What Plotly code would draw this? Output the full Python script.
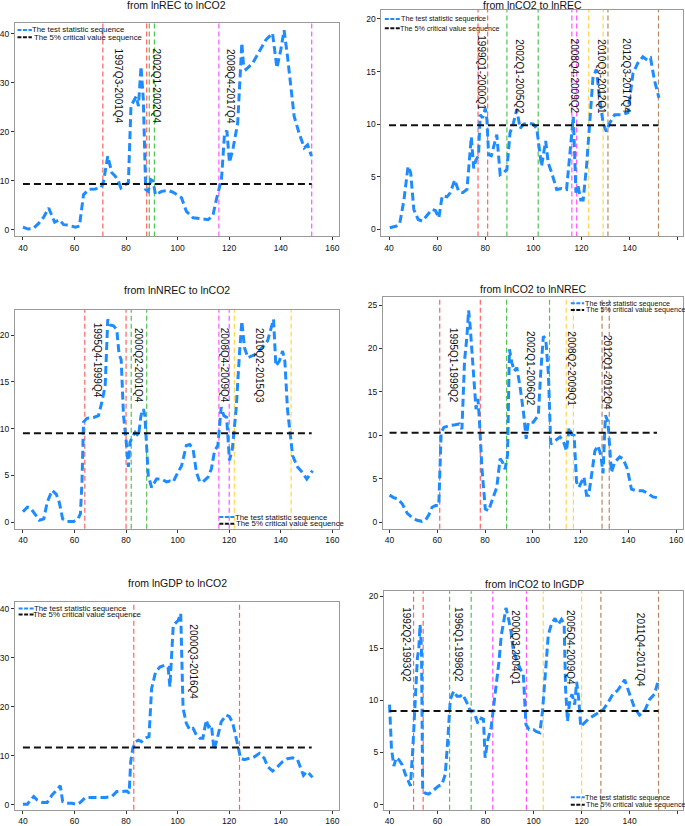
import plotly.graph_objects as go

# ---------------- DATA ----------------
titles = ["from lnREC to lnCO2", "from lnCO2 to lnREC",
          "from lnNREC to lnCO2", "from lnCO2 to lnNREC",
          "from lnGDP to lnCO2", "from lnCO2 to lnGDP"]
legend_names = ["The test statistic sequence", "The 5% critical value sequence"]

# Panel 1: lnREC -> lnCO2
p1_x = [40, 42, 44, 46, 48, 50, 52.3, 54.1, 55.8, 57.7, 60.3, 61.9, 63.5, 65.5, 68, 70.4, 71.3, 72.9, 74.5,
        75.8, 77, 78, 79.6, 80.9, 81.9, 83.2, 83.9, 84.8, 85.8, 86.7, 87.6, 88.6, 89.6, 90.5, 91.4, 93.8,
        96.3, 98.3, 101.5, 103.4, 106, 109.2, 111.8, 113.7, 115, 117, 118.2, 119.1, 120.1, 121.4, 123.3,
        124.9, 125.6, 126.5, 129.1, 131.7, 134.3, 136.8, 138.5, 140, 141.3, 142.6, 143.7, 145.2, 147.1,
        149.1, 150.4, 151.9]
p1_y = [0.5, 0.1, 0.2, 1.2, 2.5, 4.4, 1.5, 2.0, 1.0, 0.9, 0.5, 0.7, 7.1, 8.2, 8.3, 8.6, 9.9, 15.0, 11.6,
        10.9, 9.9, 8.5, 9.2, 9.5, 25.2, 26.5, 27.2, 25.2, 33.3, 26.5, 8.2, 7.8, 10.2, 9.9, 7.1, 7.8,
        8.0, 7.6, 6.5, 3.7, 2.4, 2.2, 2.0, 2.9, 6.1, 10.2, 19.7, 20.2, 13.7, 16.3, 21.8,
        38.1, 33.3, 32.7, 34.0, 36.4, 38.8, 40.1, 33.0, 36.7, 40.7, 35.4, 29.9, 23.1, 19.7,
        16.7, 17.3, 15.0]
p1_cv = 9.3
p1_breaks = [71, 88, 89, 91, 116, 152]
p1_break_kind = ["red", "red", "green", "green", "magenta", "magenta"]
p1_periods = ["1997Q3-2001Q4", "2002Q1-2002Q4", "2008Q4-2017Q4"]

# Panel 2: lnCO2 -> lnREC
p2_x = [40.3, 42.8, 44.4, 46.2, 47.9, 49, 50.3, 52.1, 53.8, 55.9, 57.9, 59.3, 60.7, 62.1, 64.1, 65.5, 67.3,
        69, 70.6, 72.4, 74.2, 75.2, 76.1, 77.2, 77.9, 78.9, 80, 80.7, 81.4, 82.5, 83.4, 84.8, 86.2, 87.6,
        89, 90.3, 91.7, 93.1, 94.5, 95.9, 97.9, 100, 101.4, 102.8, 103.4, 104.1, 105.1, 106.2, 107.6,
        109.7, 111.7, 113.8, 115.2, 116.6, 117.7, 118.6, 119.7, 120.7, 122.1, 123.4, 124.8, 126.2, 127.6,
        129, 130.3, 131.7, 133.8, 136.6, 139.3, 141.4, 143.4, 145.5, 147.3, 148.7, 150.3, 152.2]
p2_y = [0.16, 0.3, 0.5, 2.8, 6.0, 5.4, 1.9, 0.95, 0.8, 1.4, 1.9, 1.8, 1.1, 3.2, 3.1, 3.5, 4.7,
        3.6, 3.5, 3.8, 8.8, 5.8, 6.6, 7.0, 10.9, 10.6, 11.5, 10.4, 7.1, 7.0, 7.7, 9.0, 5.2, 5.4,
        5.7, 9.2, 10.1, 11.4, 9.6, 10.0, 10.1, 10.0, 9.6, 7.0, 6.0, 7.0, 8.4, 6.3, 5.4,
        3.8, 3.9, 3.8, 7.3, 10.7, 3.5, 4.1, 2.8, 2.8, 6.0, 10.1, 14.5, 15.2, 12.3,
        10.1, 9.3, 10.1, 10.9, 10.9, 11.1, 14.8, 15.8, 16.4, 16.1, 16.3, 14.2, 12.5]
p2_cv = 9.9
p2_breaks = [77, 81, 89, 102, 116, 118, 123, 129, 131, 152]
p2_break_kind = ["red", "red", "green", "green", "magenta", "magenta", "yellow", "yellow", "brown", "brown"]
p2_periods = ["1999Q1-2000Q1", "2002Q1-2005Q2", "2008Q4-2009Q2", "2010Q3-2012Q1", "2012Q3-2017Q4"]

# Panel 3: lnNREC -> lnCO2
p3_x = [40, 41.7, 43, 44.9, 46.4, 48.1, 49.4, 51.3, 52.9, 54.1, 55.4, 57.1, 59.7, 61.4, 62.3, 62.9, 63.5,
        64.8, 67.4, 69.3, 70.6, 71.9, 72.9, 73.8, 75.1, 76.4, 77.3, 78.1, 79, 79.9, 80.9, 81.5, 82.4, 83.5,
        84.8, 85.8, 86.7, 87.3, 88.6, 89.9, 91.8, 93.8, 95.7, 97, 98.3, 99.5, 101.5, 103.4, 104.7, 106,
        107.3, 108.6, 109.8, 111.8, 113.1, 114.3, 115.6, 116.9, 117.9, 119, 120.1, 121.2, 122.7, 124,
        124.9, 125.9, 127.2, 129.8, 132.3, 134.9, 137.2, 138.1, 139.4, 140.7, 141.6, 142.6, 143.7, 144.6,
        146.5, 148.4, 150.1, 151.6, 152.3]
p3_y = [1.1, 1.6, 1.5, 0.7, 0.2, 0.35, 2.1, 3.4, 3.0, 2.1, 0.35, 0.07, 0.07, 0.35, 0.9, 4.3, 10.7,
        11.1, 11.2, 11.4, 12.8, 14.6, 21.7, 21.1, 21.0, 20.6, 17.9, 17.4, 11.4, 9.1, 5.9, 8.5, 9.1, 9.6,
        9.2, 11.4, 12.1, 11.4, 5.0, 3.7, 4.6, 4.6, 4.3, 4.4, 4.3, 5.0, 6.0, 8.2, 8.3, 7.8,
        5.3, 4.3, 4.3, 4.8, 5.7, 7.6, 8.2, 12.3, 11.4, 11.2, 6.6, 7.8, 12.1, 18.1,
        21.5, 18.7, 17.6, 17.9, 18.5, 19.4, 21.7, 16.7, 17.2, 18.3, 17.2, 12.1, 9.2, 7.1,
        5.9, 5.3, 4.6, 5.3, 5.5]
p3_cv = 9.5
p3_breaks = [64, 80, 82, 88, 116, 120, 122, 144]
p3_break_kind = ["red", "red", "green", "green", "magenta", "magenta", "yellow", "yellow"]
p3_periods = ["1995Q4-1999Q4", "2000Q2-2001Q4", "2008Q4-2009Q4", "2010Q2-2015Q3"]

# Panel 4: lnCO2 -> lnNREC
p4_x = [40, 41.8, 43.2, 45.3, 47.4, 49.5, 51.5, 53.6, 55, 56.4, 57.8, 59.2, 60.6, 61.6, 62.7, 64.8, 67.5,
        69.2, 70.3, 71.4, 72.4, 73.1, 73.8, 74.9, 76.2, 77, 77.6, 78.7, 80.1, 81.4, 82.8, 84.9, 86.3, 87.3,
        88.4, 89.4, 90.2, 91.2, 92.2, 93.3, 94.7, 96.1, 97.2, 98.1, 100.2, 102.3, 103.3, 104.4, 105.4,
        106.5, 107.5, 109.3, 111.4, 112.7, 114.1, 115.2, 116.2, 117.3, 118.3, 119.3, 120.4, 121.4, 122.5,
        123.4, 124.6, 126, 127.3, 128.5, 129.4, 130.4, 131.5, 132.9, 134.3, 136.4, 137.8, 139.6, 141.3,
        143.4, 146.1, 148.2, 150.3, 152.2]
p4_y = [3.1, 2.8, 2.7, 2.1, 1.0, 0.5, 0.2, 0.08, 0.2, 0.8, 1.7, 1.9, 1.9, 10.3, 10.9, 11.1, 11.2,
        11.3, 10.7, 18.6, 21.4, 24.4, 22.4, 17.6, 13.0, 14.2, 11.9, 6.1, 1.5, 1.3, 2.3, 4.0, 7.3, 6.9,
        6.1, 7.7, 19.9, 18.4, 17.4, 17.8, 15.5, 12.6, 9.6, 11.5, 11.5, 12.3, 17.2, 21.4, 21.1,
        17.2, 9.0, 9.4, 9.8, 9.4, 8.2, 10.9, 10.1, 10.0, 4.6, 4.0, 4.6, 5.2, 3.1,
        3.1, 5.4, 8.2, 8.8, 7.7, 5.6, 12.3, 11.5, 5.7, 6.9, 7.5, 7.3, 6.1, 3.8,
        3.6, 3.6, 3.3, 2.9, 2.8]
p4_cv = 10.3
p4_breaks = [61, 78, 89, 107, 114, 117, 129, 132]
p4_break_kind = ["red", "red", "green", "green", "yellow", "yellow", "brown", "brown"]
p4_periods = ["1995Q1-1999Q2", "2002Q1-2006Q2", "2008Q2-2009Q1", "2012Q1-2012Q4"]

# Panel 5: lnGDP -> lnCO2
p5_x = [40, 41.7, 43, 44.2, 45.5, 47.5, 49.4, 51.3, 53.2, 54.5, 55.4, 57.1, 59, 61, 62.3, 64.2, 66.8, 69.3,
        71.9, 74.5, 76.4, 78.3, 80.3, 81.2, 81.8, 82.6, 83.7, 84.8, 86, 87.3, 88.9, 89.9, 91.4, 93.1, 95,
        96.3, 97, 98.3, 99.5, 100.2, 101.2, 102.1, 103.4, 104.7, 106, 107.3, 108.6, 109.8, 111.1, 112,
        113.1, 114.1, 115.4, 116.9, 118.8, 120.1, 121.4, 122.7, 123.6, 124.4, 125.9, 127.8, 129.8, 131.7,
        133.6, 134.9, 136.8, 138.8, 140.7, 142.6, 144.6, 146.5, 147.8, 148.8, 150.1, 151, 152.3]
p5_y = [0.1, 0.1, 1.0, 1.7, 1.0, 0.5, 0.5, 2.0, 3.1, 3.9, 0.7, 0.3, 0.3, 0.1, 0.5, 1.5, 1.5, 1.5,
        1.5, 1.7, 2.7, 2.7, 2.8, 2.4, 8.8, 11.5, 12.9, 13.2, 12.9, 13.6, 13.9, 23.7, 27.0, 28.1, 28.5,
        28.1, 24.1, 36.6, 37.3, 37.6, 39.0, 19.7, 16.6, 15.3, 15.6, 14.2, 13.6, 13.6, 17.3, 15.9,
        16.3, 11.2, 13.6, 16.9, 18.3, 18.0, 16.6, 13.9, 11.5, 9.5, 9.2, 9.5, 9.8, 10.5,
        9.5, 7.8, 6.9, 7.8, 8.8, 9.4, 9.6, 9.2, 7.5, 6.0, 6.8, 6.4, 5.6]
p5_cv = 11.7
p5_breaks = [83, 124]
p5_break_kind = ["red", "red"]
p5_periods = ["2000Q3-2016Q4"]

# Panel 6: lnCO2 -> lnGDP
p6_x = [40, 40.8, 41.8, 42.8, 43.9, 45.3, 46.6, 48, 48.7, 49.7, 50.8, 51.6, 52.2, 52.7, 53.3, 53.8, 54.9,
        56.3, 58.4, 60.5, 61.8, 63.2, 64.3, 65.3, 66.7, 68.1, 69.4, 70.4, 72.2, 73.6, 75, 76.8, 78.2, 79.1,
        79.8, 80.9, 82.3, 83.3, 84.2, 85.6, 86.5, 87.4, 88.5, 89.5, 90.6, 91.6, 93, 94.3, 95.7, 96.8,
        98.1, 99.9, 101.2, 102.6, 103.7, 105, 106.1, 107.5, 108.9, 110.2, 111.6, 112.7, 113.3, 114.1,
        115.1, 116, 117.1, 117.9, 118.8, 119.6, 121, 122.7, 124.7, 126.8, 128.9, 131, 133, 135.1, 137.9,
        140, 142, 144.1, 146.2, 148.3, 150.3, 152]
p6_y = [9.6, 5.4, 3.7, 4.5, 4.3, 3.8, 2.9, 2.2, 1.8, 5.4, 11.2, 14.1, 15.0, 17.3, 15.0, 1.3, 1.1,
        1.0, 1.4, 1.8, 1.9, 2.9, 6.4, 10.1, 10.9, 10.4, 10.4, 10.6, 9.8, 9.0, 9.0, 7.8, 8.3, 8.2,
        4.5, 6.2, 7.4, 9.3, 10.9, 13.8, 16.2, 17.3, 18.9, 17.9, 16.6, 14.7, 13.8, 13.1, 12.5, 7.7,
        7.2, 7.2, 7.0, 6.9, 9.0, 13.4, 16.3, 17.4, 17.9, 17.3, 17.8, 17.4, 11.2, 8.0,
        10.1, 10.6, 9.6, 11.8, 10.1, 7.5, 7.8, 8.2, 8.5, 8.8, 9.1, 9.8, 10.6, 11.0, 12.0,
        10.6, 9.3, 8.6, 9.0, 10.1, 10.6, 12.0]
p6_cv = 9.0
p6_breaks = [50, 54, 65, 74, 83, 97, 104, 120, 128, 152]
p6_break_kind = ["red", "red", "green", "green", "magenta", "magenta", "yellow", "yellow", "brown", "brown"]
p6_periods = ["1992Q2-1993Q2", "1996Q1-1998Q2", "2000Q3-2004Q1", "2005Q4-2009Q4", "2011Q4-2017Q4"]

cv_start, cv_end = 40, 152
x_ticks = [40, 60, 80, 100, 120, 140, 160]
y_ticks = [[0, 10, 20, 30, 40], [0, 5, 10, 15, 20], [0, 5, 10, 15, 20],
           [0, 5, 10, 15, 20, 25], [0, 10, 20, 30, 40], [0, 5, 10, 15, 20]]

# ---------------- LAYOUT / STYLE ----------------
W, H = 685, 826
kind_color = {"red": "#ff6262", "green": "#4fc44f", "magenta": "#ff55ff",
              "yellow": "#ffd54f", "brown": "#b8895f"}
BLUE = "#1e8cff"
BLACK = "#111111"
FONT = "Liberation Sans, Arial, sans-serif"

# frames in pixels (left, right, top, bottom)
frames = [(13, 338, 23, 237), (381, 684, 10, 237),
          (13, 338, 310.7, 530), (382.7, 684, 298, 530),
          (13, 338, 603.3, 811.7), (383.7, 684, 592.7, 811.7)]
xranges = [[36.9, 162.4], [36.8, 162.2], [36.9, 162.4], [37.25, 162.9], [36.9, 162.4], [37.7, 162.2]]
yranges = [[-1.4, 42.2], [-0.66, 20.85], [-0.71, 22.7], [-0.77, 25.9], [-1.0, 41.4], [-0.5, 20.5]]
title_pos = [(175, 5), (533, 5), (176, 291), (534, 290), (176, 584), (535, 585)]
# period label positions (data x, data y of top)
label_pos = [
    [(77, 37.4), (91.8, 37.4), (120.5, 37.3)],
    [(78.6, 18.6), (94.1, 18.3), (117.2, 18.3), (128.6, 18.3), (138.9, 18.3)],
    [(68.7, 21.5), (84.8, 21.0), (118.2, 21.0), (131.7, 21.0)],
    [(66.8, 22.6), (98.8, 22.2), (116.2, 22.2), (131.2, 21.8)],
    [(106, 37.3)],
    [(47.3, 19.2), (69, 19.2), (92.3, 18.9), (115.3, 18.9), (144.8, 18.6)],
]
# legend key placement in px: (line x0, line x1, y of row1, y of row2, text x row1, text x row2, font)
legend_px = [(15.5, 30, 30, 37.3, 29.5, 31, 7.8),
             (384.5, 399.5, 19, 28.3, 399.5, 399, 7.2),
             (218.3, 233.3, 518.3, 525, 233, 234, 7.8),
             (571.3, 584.7, 304, 310.7, 584.5, 586, 7.2),
             (16.7, 31.7, 610, 616, 31.5, 30, 7.8),
             (571.3, 585.3, 799.3, 806.7, 585, 586, 7.2)]

panels = [
    (p1_x, p1_y, p1_cv, p1_breaks, p1_break_kind, p1_periods),
    (p2_x, p2_y, p2_cv, p2_breaks, p2_break_kind, p2_periods),
    (p3_x, p3_y, p3_cv, p3_breaks, p3_break_kind, p3_periods),
    (p4_x, p4_y, p4_cv, p4_breaks, p4_break_kind, p4_periods),
    (p5_x, p5_y, p5_cv, p5_breaks, p5_break_kind, p5_periods),
    (p6_x, p6_y, p6_cv, p6_breaks, p6_break_kind, p6_periods),
]

fig = go.Figure()
layout = dict(width=W, height=H, margin=dict(l=0, r=0, t=0, b=0),
              paper_bgcolor="white", plot_bgcolor="white",
              font=dict(family=FONT, color=BLACK), showlegend=False)
shapes, annotations = [], []

axis_common = dict(ticks="outside", ticklen=3, tickcolor="#333", showline=True, mirror=True,
                   linecolor="#9a9a9a", linewidth=1, showgrid=False, zeroline=False,
                   tickfont=dict(size=8.5, color=BLACK, family=FONT))

for i, (xs, ys, cv, brks, kinds, periods) in enumerate(panels):
    n = i + 1
    sfx = "" if n == 1 else str(n)
    xa, ya = "x" + sfx, "y" + sfx
    l, r, t, b = frames[i]
    layout["xaxis" + sfx] = dict(domain=[l / W, r / W], range=xranges[i], anchor=ya,
                                 tickvals=x_ticks, **axis_common)
    layout["yaxis" + sfx] = dict(domain=[1 - b / H, 1 - t / H], range=yranges[i], anchor=xa,
                                 tickvals=y_ticks[i], **axis_common)

    for bx, kd in zip(brks, kinds):
        shapes.append(dict(type="line", xref=xa, yref=ya + " domain", x0=bx, x1=bx, y0=0, y1=1,
                           line=dict(color=kind_color[kd], width=1.2, dash="5px,3px"), layer="below"))

    fig.add_trace(go.Scatter(x=xs, y=ys, mode="lines", name=legend_names[0],
                             xaxis=xa, yaxis=ya,
                             line=dict(color=BLUE, width=3, dash="8px,4px")))
    fig.add_trace(go.Scatter(x=[cv_start, cv_end], y=[cv, cv], mode="lines",
                             name=legend_names[1], xaxis=xa, yaxis=ya,
                             line=dict(color=BLACK, width=2, dash="7px,4px")))

    for txt, (px_, py_) in zip(periods, label_pos[i]):
        annotations.append(dict(text=txt, x=px_, y=py_, xref=xa, yref=ya, showarrow=False,
                                textangle=90, xanchor="center", yanchor="top",
                                font=dict(size=10, family=FONT, color=BLACK)))
    tx, ty = title_pos[i]
    annotations.append(dict(text=titles[i], x=tx / W, y=1 - ty / H, xref="paper", yref="paper",
                            showarrow=False, xanchor="center", yanchor="middle",
                            font=dict(size=10.5, family=FONT, color=BLACK)))

    # compact legend key (as drawn in the source figure)
    lx0, lx1, ry1, ry2, tx1, tx2, lfs = legend_px[i]
    for (ry, txx, col, nm) in [(ry1, tx1, BLUE, legend_names[0]), (ry2, tx2, BLACK, legend_names[1])]:
        shapes.append(dict(type="line", xref="paper", yref="paper",
                           x0=lx0 / W, x1=lx1 / W, y0=1 - ry / H, y1=1 - ry / H,
                           line=dict(color=col, width=2, dash="4px,1.5px")))
        annotations.append(dict(text=nm, x=txx / W, y=1 - ry / H, xref="paper", yref="paper",
                                showarrow=False, xanchor="left", yanchor="middle", borderpad=0,
                                font=dict(size=lfs, family=FONT, color=BLACK)))

layout["shapes"] = shapes
layout["annotations"] = annotations
fig.update_layout(**layout)
fig.write_html("out.html", config={"displayModeBar": False},
               post_script="document.body.style.margin='0';document.body.style.overflow='hidden';")
